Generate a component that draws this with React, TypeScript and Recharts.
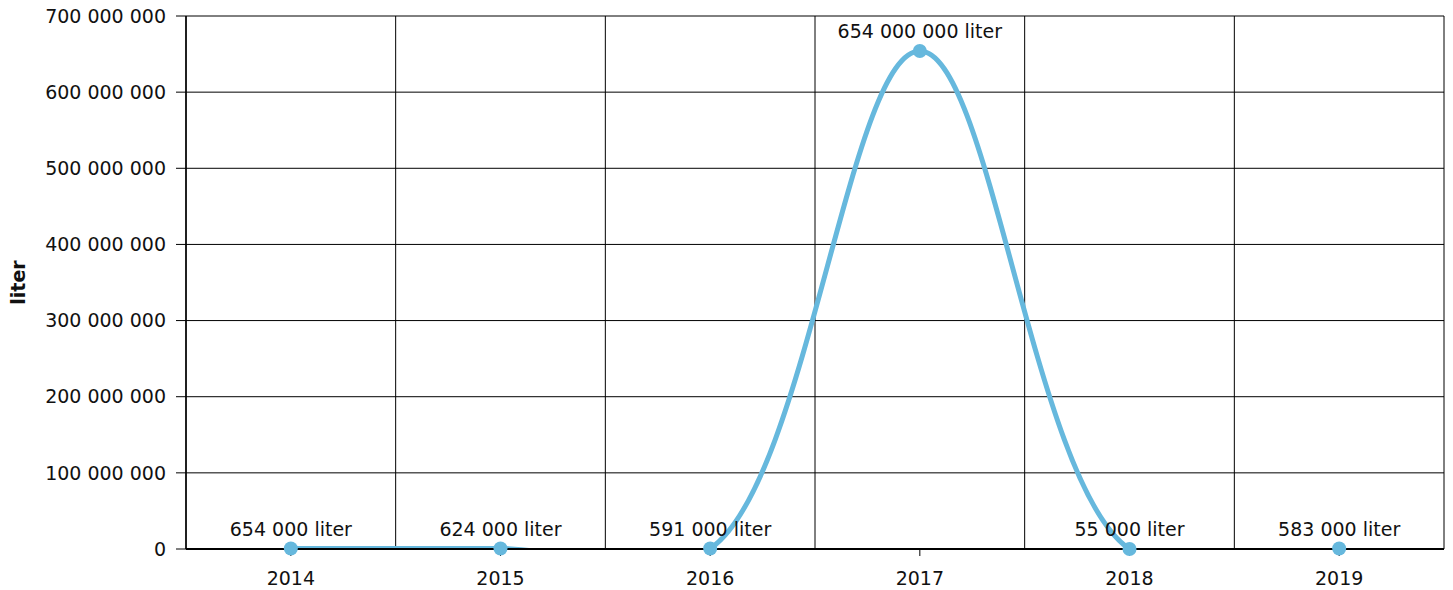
import React from 'react';
import { LineChart, Line, XAxis, YAxis, CartesianGrid, LabelList, Label } from 'recharts';

const years = ['2014', '2015', '2016', '2017', '2018', '2019'];
const liters = [654000, 624000, 591000, 654000000, 55000, 583000];
const yTicks = [0, 100000000, 200000000, 300000000, 400000000, 500000000, 600000000, 700000000];

const data = years.map((year, i) => ({ year, value: liters[i] }));

const FONT = '"DejaVu Sans", Verdana, sans-serif';
const BLUE = '#66b8dd';
const INK = '#111';

// "654000000" -> "654 000 000"
const spaced = (v: number) => String(Math.round(v)).replace(/\B(?=(\d{3})+(?!\d))/g, ' ');

// centripetal catmull-rom (alpha 0.5), same maths as d3's curveCatmullRom
const catmullRom = (context: any) => {
  let x0 = NaN, y0 = NaN, x1 = NaN, y1 = NaN, x2 = NaN, y2 = NaN;
  let l01a = 0, l12a = 0, l23a = 0, l01_2a = 0, l12_2a = 0, l23_2a = 0;
  let count = 0;

  const seg = (x: number, y: number) => {
    let cx1 = x1, cy1 = y1, cx2 = x2, cy2 = y2;
    if (l01a > 1e-12) {
      const a = 2 * l01_2a + 3 * l01a * l12a + l12_2a;
      const n = 3 * l01a * (l01a + l12a);
      cx1 = (x1 * a - x0 * l12_2a + x2 * l01_2a) / n;
      cy1 = (y1 * a - y0 * l12_2a + y2 * l01_2a) / n;
    }
    if (l23a > 1e-12) {
      const b = 2 * l23_2a + 3 * l23a * l12a + l12_2a;
      const m = 3 * l23a * (l23a + l12a);
      cx2 = (x2 * b + x1 * l23_2a - x * l12_2a) / m;
      cy2 = (y2 * b + y1 * l23_2a - y * l12_2a) / m;
    }
    context.bezierCurveTo(cx1, cy1, cx2, cy2, x2, y2);
  };

  const curve = {
    areaStart() {},
    areaEnd() {},
    lineStart() {
      x0 = x1 = x2 = y0 = y1 = y2 = NaN;
      l01a = l12a = l23a = l01_2a = l12_2a = l23_2a = 0;
      count = 0;
    },
    lineEnd() {
      if (count === 2) context.lineTo(x2, y2);
      else if (count === 3) curve.point(x2, y2);
    },
    point(px: number, py: number) {
      const x = +px, y = +py;
      if (count) {
        const dx = x2 - x, dy = y2 - y;
        l23_2a = Math.sqrt(dx * dx + dy * dy);
        l23a = Math.sqrt(l23_2a);
      }
      if (count === 0) {
        count = 1;
        context.moveTo(x, y);
      } else if (count === 1) {
        count = 2;
      } else {
        count = 3;
        seg(x, y);
      }
      l01a = l12a; l12a = l23a;
      l01_2a = l12_2a; l12_2a = l23_2a;
      x0 = x1; x1 = x2; x2 = x;
      y0 = y1; y1 = y2; y2 = y;
    },
  };
  return curve;
};

const YTitle = ({ viewBox }: any) => {
  const cx = 18;
  const cy = viewBox.y + viewBox.height / 2;
  return (
    <text
      x={cx}
      y={cy}
      transform={`rotate(-90, ${cx}, ${cy})`}
      textAnchor="middle"
      dominantBaseline="central"
      fontFamily={FONT}
      fontSize={19}
      fontWeight="bold"
      fill={INK}
    >
      liter
    </text>
  );
};

export default function App() {
  return (
    <div style={{ position: 'absolute', left: 0, top: 0, width: 1453, height: 590, background: '#fff', fontFamily: FONT }}>
      <LineChart width={1453} height={590} data={data} margin={{ top: 16, right: 9, left: 0, bottom: 0 }}>
        <CartesianGrid
          stroke="#000"
          strokeWidth={1}
          verticalCoordinatesGenerator={({ offset }: any) =>
            years.map((_, i) => offset.left + (i * offset.width) / years.length).concat(offset.left + offset.width)
          }
        />
        <XAxis
          dataKey="year"
          scale="band"
          height={41}
          axisLine={{ stroke: '#000', strokeWidth: 2 }}
          tickLine={{ stroke: '#000' }}
          tickSize={7}
          tickMargin={16}
          tick={{ fill: INK, fontSize: 19, fontFamily: FONT }}
        />
        <YAxis
          width={186}
          domain={[0, 700000000]}
          ticks={yTicks}
          allowDataOverflow
          interval={0}
          axisLine={{ stroke: '#000', strokeWidth: 1.5 }}
          tickLine={{ stroke: '#000' }}
          tickSize={10}
          tickMargin={10}
          tickFormatter={spaced}
          tick={{ fill: INK, fontSize: 19, fontFamily: FONT }}
        >
          <Label content={<YTitle />} />
        </YAxis>
        <Line
          dataKey="value"
          type={catmullRom as any}
          stroke={BLUE}
          strokeWidth={5}
          dot={{ r: 7, fill: BLUE, stroke: BLUE, strokeWidth: 0, clipDot: false } as any}
          activeDot={false}
          isAnimationActive={false}
        >
          <LabelList
            dataKey="value"
            position="top"
            offset={13}
            formatter={(v: any) => `${spaced(Number(v))} liter`}
            fill={INK}
            fontSize={19}
            fontFamily={FONT}
          />
        </Line>
      </LineChart>
    </div>
  );
}
